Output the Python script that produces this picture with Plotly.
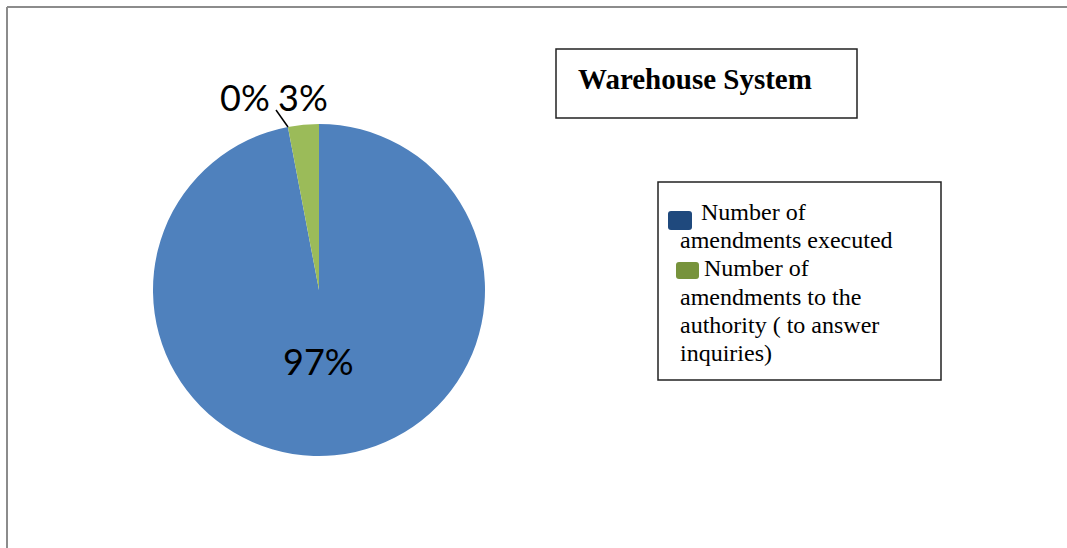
import plotly.graph_objects as go

# ---- data ----
categories = [
    "Number of amendments executed",
    "",
    "Number of amendments to the authority ( to answer inquiries)",
]
values = [97, 0, 3]
pie_colors = ["#4F81BD", "#F79646", "#9BBB59"]
legend_labels = [
    ["Number of", "amendments executed"],
    ["Number of", "amendments to the", "authority ( to answer", "inquiries)"],
]
legend_colors = ["#1F497D", "#77933C"]
title_text = "Warehouse System"

W, H = 1067, 548

fig = go.Figure()
fig.add_trace(go.Pie(
    labels=categories,
    values=values,
    sort=False,
    direction="clockwise",
    rotation=0,
    marker=dict(colors=pie_colors, line=dict(width=0)),
    textinfo="none",
    showlegend=False,
    hoverinfo="label+percent",
    domain=dict(x=[153 / W, 485 / W], y=[1 - 456 / H, 1 - 124 / H]),
))

def px(x):
    return x / W

def py(y):
    return 1 - y / H

def rounded_rect(x0, y0, x1, y1, r=3):
    X = lambda v: px(v)
    Y = lambda v: py(v)
    return (f"M {X(x0 + r)},{Y(y0)} L {X(x1 - r)},{Y(y0)} Q {X(x1)},{Y(y0)} {X(x1)},{Y(y0 + r)} "
            f"L {X(x1)},{Y(y1 - r)} Q {X(x1)},{Y(y1)} {X(x1 - r)},{Y(y1)} "
            f"L {X(x0 + r)},{Y(y1)} Q {X(x0)},{Y(y1)} {X(x0)},{Y(y1 - r)} "
            f"L {X(x0)},{Y(y0 + r)} Q {X(x0)},{Y(y0)} {X(x0 + r)},{Y(y0)} Z")

total = sum(values)
pct = [f"{round(100 * v / total)}%" for v in values]
label_font = dict(family="Lato", size=36, color="black")

shapes = []
annotations = []
# data labels
annotations.append(dict(xref="paper", yref="paper", x=px(318), y=py(361), xanchor="center", yanchor="middle",
                        text=pct[0], showarrow=False, font=label_font))
annotations.append(dict(xref="paper", yref="paper", x=px(272), y=py(97), xanchor="right", yanchor="middle",
                        text=pct[1], showarrow=False, font=label_font))
annotations.append(dict(xref="paper", yref="paper", x=px(276), y=py(97), xanchor="left", yanchor="middle",
                        text=pct[2], showarrow=False, font=label_font))
shapes.append(dict(type="line", xref="paper", yref="paper", x0=px(276), x1=px(288), y0=py(110), y1=py(127),
                   line=dict(color="black", width=1.5)))
# outer chart border (left + top)
shapes.append(dict(type="line", xref="paper", yref="paper", x0=px(7), x1=px(7), y0=py(7), y1=py(548),
                   line=dict(color="#8C8C8C", width=2)))
shapes.append(dict(type="line", xref="paper", yref="paper", x0=px(7), x1=px(1067), y0=py(7), y1=py(7),
                   line=dict(color="#8C8C8C", width=2)))
# title box
shapes.append(dict(type="rect", xref="paper", yref="paper", x0=px(556), x1=px(857), y0=py(118), y1=py(49),
                   line=dict(color="#222222", width=1.5), fillcolor="white"))
annotations.append(dict(xref="paper", yref="paper", x=px(576), y=py(79), xanchor="left", yanchor="middle",
                        text="<b>" + title_text + "</b>", showarrow=False,
                        font=dict(family="Liberation Serif", size=29, color="black")))
# legend box
shapes.append(dict(type="rect", xref="paper", yref="paper", x0=px(658), x1=px(941), y0=py(380), y1=py(182),
                   line=dict(color="#222222", width=1.5), fillcolor="white"))
line_h = 28.2
marker_box = [(668, 211, 692, 230), (676, 262, 699, 279)]
text_x0 = [699, 702]
k = 0
for i, (lines, col) in enumerate(zip(legend_labels, legend_colors)):
    x0, y0, x1, y1 = marker_box[i]
    shapes.append(dict(type="path", xref="paper", yref="paper", path=rounded_rect(x0, y0, x1, y1),
                       line=dict(width=0), fillcolor=col))
    for j, t in enumerate(lines):
        x = text_x0[i] if j == 0 else 678
        yc = 212 + line_h * k
        annotations.append(dict(xref="paper", yref="paper", x=px(x), y=py(yc),
                                xanchor="left", yanchor="middle", text=t, showarrow=False,
                                font=dict(family="Liberation Serif", size=24, color="black")))
        k += 1

fig.update_layout(
    width=W, height=H,
    margin=dict(l=0, r=0, t=0, b=0),
    paper_bgcolor="white",
    plot_bgcolor="white",
    shapes=shapes,
    annotations=annotations,
)

fig.write_html("out.html")
